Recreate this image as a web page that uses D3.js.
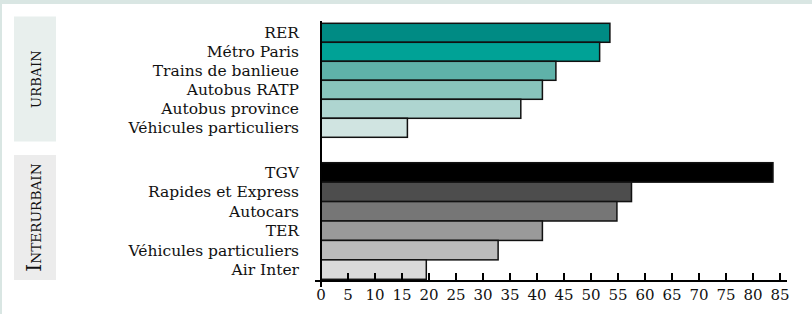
<!DOCTYPE html>
<html>
<head>
<meta charset="utf-8">
<script src="https://cdn.jsdelivr.net/npm/d3@7"></script>
<style>
  html, body { margin: 0; padding: 0; background: #d9e6e3; }
  #chart { width: 812px; height: 314px; }
  text { font-family: "DejaVu Serif", serif; fill: #111; }
</style>
</head>
<body>
<div id="chart"></div>
<script>
// Transport modes, two groups
const urbanLabels = ["RER", "Métro Paris", "Trains de banlieue", "Autobus RATP", "Autobus province", "Véhicules particuliers"];
const urbanValues = [53.5, 51.6, 43.5, 41, 37, 16];
const urbanColors = ["#008b84", "#00a296", "#5fb2a9", "#88c4bc", "#aed5d0", "#d0e4e1"];

const interLabels = ["TGV", "Rapides et Express", "Autocars", "TER", "Véhicules particuliers", "Air Inter"];
const interValues = [83.7, 57.5, 54.8, 41, 32.8, 19.5];
const interColors = ["#000000", "#4d4d4d", "#767676", "#9a9a9a", "#bcbcbc", "#dadada"];

const xTicks = d3.range(0, 86, 5);

const W = 812, H = 314;
const svg = d3.select("#chart").append("svg")
    .attr("width", W).attr("height", H);

svg.append("rect").attr("x", 2).attr("y", 4).attr("width", W - 2).attr("height", H - 4).attr("fill", "#fff");

const x = d3.scaleLinear().domain([0, 85]).range([321, 780]);

const groups = [
    { name: "URBAIN", labels: urbanLabels, values: urbanValues, colors: urbanColors,
      range: [23.3, 137.3], box: [16.5, 141.5], boxFill: "#e8efed", mid: 79, big: false },
    { name: "INTERURBAIN", labels: interLabels, values: interValues, colors: interColors,
      range: [162.7, 279.3], box: [155, 280], boxFill: "#ececec", mid: 217.5, big: true }
];

groups.forEach(gr => {
    const idx = d3.range(gr.labels.length);
    const y = d3.scaleBand().domain(idx).range(gr.range).paddingInner(0);

    svg.append("rect")
        .attr("x", 14).attr("y", gr.box[0])
        .attr("width", 42).attr("height", gr.box[1] - gr.box[0])
        .attr("fill", gr.boxFill);

    const t = svg.append("text")
        .attr("transform", `translate(41,${gr.mid}) rotate(-90)`)
        .attr("text-anchor", "middle");
    if (gr.big) {
        t.append("tspan").style("font-size", "20px").text(gr.name[0]);
        t.append("tspan").style("font-size", "13.7px").text(gr.name.slice(1));
    } else {
        t.style("font-size", "13px").style("letter-spacing", "0.3px").text(gr.name);
    }

    const g = svg.append("g");
    g.selectAll("rect")
        .data(idx)
        .join("rect")
        .attr("x", x(0))
        .attr("y", i => y(i))
        .attr("width", i => x(gr.values[i]) - x(0))
        .attr("height", y.bandwidth())
        .attr("fill", i => gr.colors[i])
        .attr("stroke", "#111")
        .attr("stroke-width", 1.5);

    g.selectAll("text")
        .data(idx)
        .join("text")
        .attr("x", 299)
        .attr("y", i => y(i) + y.bandwidth() / 2)
        .attr("dy", "0.36em")
        .attr("text-anchor", "end")
        .style("font-size", "15.5px")
        .text(i => gr.labels[i]);
});

const axisY = 281;
svg.append("line")
    .attr("x1", x(0)).attr("x2", x(0))
    .attr("y1", 21).attr("y2", 287)
    .attr("stroke", "#000").attr("stroke-width", 2);

svg.append("line")
    .attr("x1", 315).attr("x2", 787)
    .attr("y1", axisY).attr("y2", axisY)
    .attr("stroke", "#000").attr("stroke-width", 2);

svg.selectAll(".tick")
    .data(xTicks.slice(1))
    .join("line")
    .attr("class", "tick")
    .attr("x1", d => x(d)).attr("x2", d => x(d))
    .attr("y1", axisY - 8).attr("y2", axisY)
    .attr("stroke", "#000").attr("stroke-width", 2);

svg.selectAll(".tlabel")
    .data(xTicks)
    .join("text")
    .attr("class", "tlabel")
    .attr("x", d => x(d))
    .attr("y", 300)
    .attr("text-anchor", "middle")
    .style("font-size", "15px")
    .text(d => d);
</script>
</body>
</html>
